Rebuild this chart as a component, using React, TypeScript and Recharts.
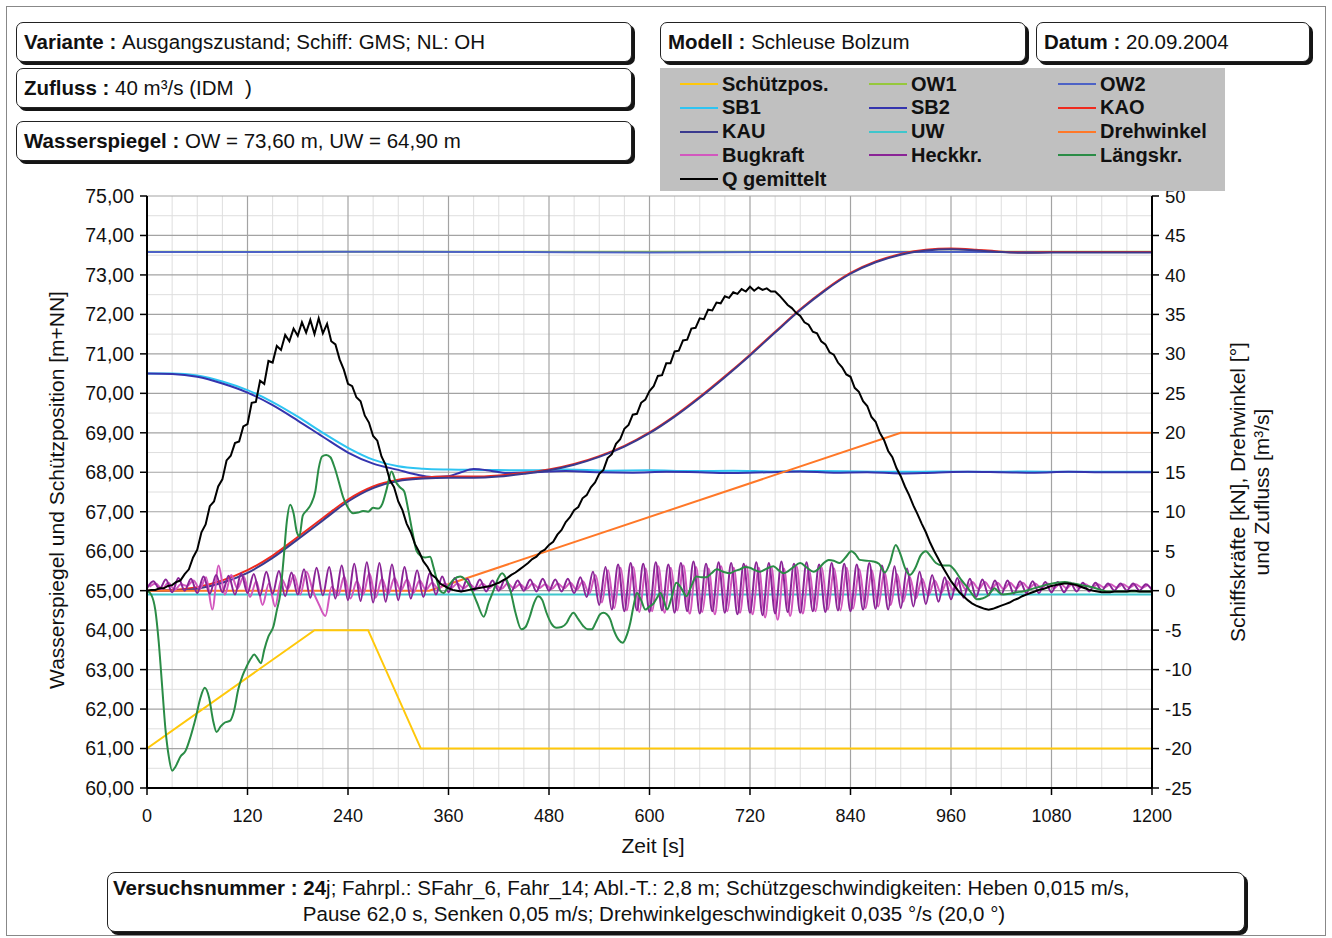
import React from 'react';
import { LineChart, Line, XAxis, YAxis, ReferenceLine } from 'recharts';

const FONT = '"Liberation Sans", Arial, Helvetica, sans-serif';

// ---------- axis ticks ----------
const X_TICKS = [0, 120, 240, 360, 480, 600, 720, 840, 960, 1080, 1200];
const X_MINOR = [30, 60, 90, 150, 180, 210, 270, 300, 330, 390, 420, 450, 510, 540, 570, 630, 660, 690, 750, 780, 810, 870, 900, 930, 990, 1020, 1050, 1110, 1140, 1170];
const X_ALL30 = [0, 30, 60, 90, 120, 150, 180, 210, 240, 270, 300, 330, 360, 390, 420, 450, 480, 510, 540, 570, 600, 630, 660, 690, 720, 750, 780, 810, 840, 870, 900, 930, 960, 990, 1020, 1050, 1080, 1110, 1140, 1170, 1200];
const X_GRID_MAJOR = [120, 240, 360, 480, 600, 720, 840, 960, 1080];
const Y_LEFT_TICKS = [60, 61, 62, 63, 64, 65, 66, 67, 68, 69, 70, 71, 72, 73, 74, 75];
const Y_LEFT_MINOR = [60.5, 61.5, 62.5, 63.5, 64.5, 65.5, 66.5, 67.5, 68.5, 69.5, 70.5, 71.5, 72.5, 73.5, 74.5];
const Y_GRID_MAJOR = [61, 62, 63, 64, 65, 66, 67, 68, 69, 70, 71, 72, 73, 74, 75];
const Y_RIGHT_TICKS = [-25, -20, -15, -10, -5, 0, 5, 10, 15, 20, 25, 30, 35, 40, 45, 50];

// ---------- series (left axis, m+NN) ----------
const SCHUETZ_T = [0, 200, 264, 327, 1200];
const SCHUETZ_V = [61.0, 64.0, 64.0, 61.0, 61.0];

const OW_T = [0, 150, 300, 450, 600, 750, 900, 1050, 1200];
const OW1_V = [73.585, 73.59, 73.585, 73.585, 73.59, 73.585, 73.585, 73.59, 73.585];
const OW2_V = [73.58, 73.58, 73.59, 73.58, 73.57, 73.58, 73.58, 73.58, 73.58];

const SB1_T = [0, 30, 60, 90, 120, 150, 180, 210, 240, 270, 300, 330, 360, 400, 450, 500, 550, 600, 650, 700, 750, 800, 850, 900, 950, 1000, 1050, 1100, 1150, 1200];
const SB1_V = [70.5, 70.5, 70.45, 70.3, 70.08, 69.78, 69.41, 69.0, 68.62, 68.32, 68.15, 68.09, 68.07, 68.06, 68.05, 68.07, 68.04, 68.05, 68.03, 68.04, 68.02, 68.03, 68.02, 68.01, 68.02, 68.01, 68.02, 68.01, 68.01, 68.01];

const SB2_T = [0, 30, 60, 90, 120, 150, 180, 210, 240, 270, 300, 320, 340, 360, 375, 390, 410, 430, 460, 500, 540, 580, 620, 660, 700, 740, 780, 820, 860, 900, 940, 980, 1020, 1060, 1100, 1140, 1200];
const SB2_V = [70.5, 70.49, 70.42, 70.25, 70.02, 69.7, 69.31, 68.9, 68.5, 68.22, 68.06, 67.95, 67.88, 67.9, 68.0, 68.08, 68.04, 67.98, 68.0, 68.03, 68.0, 67.99, 68.01, 68.0, 67.98, 68.0, 68.02, 67.99, 68.0, 67.97, 67.99, 68.01, 68.0, 67.99, 68.01, 68.0, 68.0];

const KA_T = [0, 30, 60, 90, 120, 150, 180, 210, 240, 270, 300, 330, 360, 390, 420, 450, 480, 510, 540, 570, 600, 630, 660, 690, 720, 750, 780, 810, 840, 870, 900, 930, 960, 990, 1020, 1050, 1080, 1110, 1140, 1170, 1200];
const KAO_V = [65.0, 65.02, 65.09, 65.26, 65.52, 65.89, 66.36, 66.84, 67.31, 67.64, 67.81, 67.87, 67.89, 67.89, 67.92, 67.98, 68.07, 68.21, 68.41, 68.67, 69.01, 69.43, 69.91, 70.43, 70.98, 71.56, 72.13, 72.63, 73.05, 73.34, 73.53, 73.64, 73.67, 73.64, 73.59, 73.57, 73.58, 73.58, 73.58, 73.58, 73.58];
const KAU_V = [65.0, 65.0, 65.05, 65.2, 65.45, 65.83, 66.3, 66.78, 67.26, 67.6, 67.78, 67.84, 67.86, 67.86, 67.89, 67.96, 68.05, 68.19, 68.39, 68.65, 68.99, 69.41, 69.89, 70.41, 70.96, 71.54, 72.11, 72.61, 73.03, 73.32, 73.51, 73.62, 73.65, 73.62, 73.58, 73.56, 73.57, 73.57, 73.57, 73.57, 73.57];

const UW_T = [0, 300, 600, 900, 1200];
const UW_V = [64.9, 64.9, 64.9, 64.9, 64.9];

// ---------- series (right axis) ----------
const DREH_T = [0, 337, 900, 1200];
const DREH_V = [0, 0, 20, 20];

// Heckkraft, sampled every 7.5 s starting at 0 s
const HECK_STEP = 7.5;
const HECK_V = [
  0.3, 1.2, 0.2, 1.4, -0.2, 1.6, 0.0, 1.5, -0.3, 1.8, -0.4, 2.0, -0.2, 1.9, -0.5, 2.2,
  -0.3, 2.1, -0.6, 2.4, -0.4, 2.5, -0.7, 2.3, -0.5, 2.7, -0.9, 2.9, -0.6, 3.0, -1.0, 3.2,
  -1.2, 3.4, -1.3, 3.6, -1.5, 3.5, -1.4, 3.3, -1.2, 3.0, -1.0, 2.6, -0.8, 2.2, -0.5, 1.8,
  -0.2, 1.6, -0.1, 1.5, 0.0, 1.4, -0.1, 1.3, 0.0, 1.4, -0.1, 1.3, 0.0, 1.4, -0.1, 1.5,
  0.0, 1.4, -0.1, 1.5, -0.3, 1.7, -0.8, 2.4, -1.8, 3.0, -2.4, 3.3, -2.6, 3.5, -2.5, 3.4,
  -2.7, 3.6, -2.5, 3.3, -2.8, 3.5, -2.6, 3.7, -2.9, 3.4, -2.6, 3.6, -2.8, 3.5, -3.0, 3.4,
  -2.8, 3.6, -3.1, 3.5, -2.9, 3.7, -2.7, 3.4, -2.8, 3.6, -2.6, 3.3, -2.7, 3.5, -2.5, 3.4,
  -2.6, 3.3, -2.4, 3.5, -2.3, 3.2, -2.4, 3.1, -2.2, 2.8, -2.0, 2.4, -1.7, 2.0, -1.4, 1.7,
  -1.1, 1.6, -0.9, 1.5, -0.8, 1.4, -0.6, 1.3, -0.5, 1.3, -0.4, 1.2, -0.3, 1.2, -0.3, 1.1,
  -0.2, 1.1, -0.2, 1.0, -0.1, 1.0, -0.1, 1.0, 0.0, 0.9, 0.0, 0.9, 0.0, 0.9, 0.0, 0.8,
  0.1,
];

// Bugkraft, sampled every 7.5 s starting at 3 s
const BUG_START = 3;
const BUG_STEP = 7.5;
const BUG_V = [
  0.5, 0.9, 0.2, 1.0, 0.1, 0.8, 0.6, 1.3, 0.2, 1.7, -2.4, 3.2, -0.5, 2.0, 0.3, 1.8,
  -0.8, 1.2, -1.8, 0.9, -2.0, 1.5, 0.2, 2.0, -0.5, 2.4, 0.0, -1.8, -3.2, 0.5, -0.6, 1.8,
  -1.0, 1.2, -0.5, 2.2, -0.9, 1.5, -0.4, 1.6, 0.0, 1.4, -0.3, 1.3, 0.1, 1.0, 0.2, 0.9,
  0.3, 0.9, 0.3, 0.8, 0.2, 0.9, 0.3, 0.8, 0.2, 0.9, 0.3, 0.8, 0.2, 0.9, 0.3, 0.8,
  0.2, 0.9, 0.3, 1.0, 0.1, 1.2, -0.4, 2.0, -1.5, 2.6, -2.2, 2.9, -2.5, 3.0, -2.7, 2.8,
  -2.6, 3.1, -2.8, 2.9, -2.5, 3.2, -2.9, 3.0, -2.7, 2.8, -3.0, 3.1, -2.6, 2.9, -2.8, 3.2,
  -3.0, 2.9, -3.4, 3.0, -3.7, 2.8, -3.2, 3.1, -2.9, 2.7, -2.6, 3.0, -2.4, 2.8, -2.5, 2.9,
  -2.3, 2.7, -2.2, 2.6, -2.0, 2.4, -1.8, 2.1, -1.4, 1.8, -1.0, 1.5, -0.6, 1.3, -0.3, 1.2,
  0.0, 1.2, 0.1, 1.1, 0.2, 1.1, 0.2, 1.0, 0.2, 1.0, 0.3, 1.0, 0.3, 0.9, 0.3, 0.9,
  0.3, 0.9, 0.3, 0.9, 0.3, 0.8, 0.4, 0.8, 0.4, 0.8, 0.4, 0.8, 0.4, 0.8, 0.4, 0.8,
];

// Längskraft (time, value)
const LAENGS_T = [0, 5, 10, 14, 18, 22, 26, 30, 34, 40, 46, 52, 58, 64, 69, 74, 79, 83, 88, 93, 99, 104, 109, 114, 119, 124, 128, 132, 136, 140, 145, 151, 155, 159, 163, 167, 171, 175, 179, 182, 186, 191, 196, 201, 205, 209, 214, 219, 224, 229, 234, 240, 246, 252, 258, 264, 270, 276, 281, 286, 292, 297, 302, 307, 312, 317, 322, 327, 332, 338, 342, 346, 350, 354, 360, 366, 374, 380, 386, 394, 402, 408, 414, 419, 424, 429, 434, 440, 447, 452, 457, 462, 467, 472, 477, 483, 489, 495, 501, 505, 509, 515, 521, 526, 531, 536, 541, 545, 549, 553, 557, 563, 568, 572, 577, 581, 585, 590, 595, 600, 605, 609, 613, 617, 621, 626, 632, 638, 644, 650, 656, 662, 668, 674, 680, 688, 696, 702, 708, 714, 720, 726, 732, 740, 748, 754, 760, 766, 772, 780, 788, 796, 803, 808, 814, 820, 827, 834, 841, 846, 851, 859, 867, 874, 881, 887, 894, 900, 905, 911, 917, 924, 930, 936, 942, 950, 958, 965, 972, 979, 985, 991, 997, 1003, 1008, 1012, 1017, 1022, 1030, 1038, 1046, 1056, 1066, 1076, 1086, 1096, 1106, 1116, 1126, 1136, 1146, 1160, 1175, 1190, 1200];
const LAENGS_V = [0.0, -0.5, -2.5, -6.5, -12.0, -17.5, -21.0, -22.8, -22.3, -21.0, -20.3, -18.5, -16.2, -13.5, -12.3, -13.5, -16.5, -17.9, -17.2, -16.7, -16.5, -15.2, -12.5, -10.8, -9.6, -8.6, -8.1, -8.6, -9.2, -7.5, -5.8, -4.5, -2.5, -0.5, 3.9, 8.8, 10.9, 9.8, 7.4, 6.9, 9.5, 10.2, 11.0, 12.6, 15.5, 17.0, 17.2, 16.9, 15.6, 13.8, 11.9, 10.5, 9.8, 9.9, 10.1, 10.0, 10.5, 10.4, 11.0, 12.8, 15.1, 13.8, 13.1, 12.6, 10.2, 7.4, 5.0, 4.4, 4.2, 4.3, 3.0, 1.4, 0.0, -0.3, 0.6, 1.4, 1.8, 1.4, 0.5, -1.5, -3.3, -1.5, 0.1, 1.5, 2.2, 1.5, 0.0, -2.8, -4.9, -4.6, -3.3, -1.6, -0.7, -1.2, -2.8, -4.2, -4.7, -4.6, -4.1, -3.3, -2.8, -3.6, -4.5, -4.9, -4.9, -4.0, -3.0, -2.8, -3.0, -3.6, -4.9, -6.2, -6.6, -5.9, -4.1, -1.9, -0.3, -1.2, -2.4, -2.0, -1.6, -0.9, -0.3, -1.2, -2.4, -1.0, 1.0, 0.3, -0.7, 0.6, 1.8, 1.7, 1.7, 2.2, 2.7, 2.4, 2.2, 2.5, 2.7, 3.0, 2.9, 2.6, 2.4, 2.8, 3.1, 2.6, 2.2, 2.5, 3.0, 3.5, 2.9, 2.4, 2.9, 3.5, 3.9, 3.8, 3.5, 4.2, 5.0, 4.6, 3.9, 3.8, 3.7, 3.4, 2.3, 3.5, 5.8, 4.5, 2.9, 2.0, 2.8, 4.5, 5.0, 4.3, 3.5, 3.2, 3.2, 2.5, 1.4, 0.5, -0.4, -1.1, -1.0, -0.7, -0.1, 0.3, -0.2, -0.5, -0.4, -0.2, -0.1, 0.2, 0.5, 0.8, 1.0, 1.1, 0.9, 0.7, 0.5, 0.2, -0.1, -0.1, -0.1, -0.1, -0.1];

// Q gemittelt, sampled every 5 s starting at 0 s
const Q_STEP = 5;
const Q_V = [
  0.0, 0.1, 0.1, 0.3, 0.3, 0.6, 0.7, 1.1, 1.3, 2.1, 2.7, 4.2,
  5.2, 7.4, 8.4, 10.7, 11.3, 13.2, 14.1, 16.5, 17.1, 18.7, 18.9, 20.8,
  21.1, 23.8, 23.9, 26.6, 26.2, 29.1, 28.9, 31.0, 30.5, 32.4, 31.6, 33.2,
  32.3, 34.0, 32.7, 34.3, 32.5, 34.5, 32.6, 33.8, 31.6, 31.2, 29.3, 28.0,
  26.2, 25.9, 24.5, 24.0, 22.2, 21.3, 19.6, 19.0, 17.0, 15.9, 14.0, 13.1,
  11.3, 10.2, 8.5, 7.4, 5.9, 4.9, 3.7, 3.0, 2.0, 1.6, 0.9, 0.6,
  0.3, 0.1, 0.0, -0.1, 0.0, 0.1, 0.2, 0.3, 0.4, 0.5, 0.6, 0.8,
  1.0, 1.3, 1.6, 2.0, 2.3, 2.7, 3.1, 3.5, 4.0, 4.3, 4.9, 5.2,
  5.8, 6.2, 7.1, 7.7, 8.7, 9.3, 10.2, 10.6, 11.7, 12.1, 13.1, 13.7,
  14.8, 15.3, 16.8, 17.3, 18.6, 19.2, 20.5, 21.0, 22.3, 22.4, 23.8, 24.2,
  25.3, 25.9, 27.2, 27.3, 28.8, 28.8, 30.3, 30.4, 31.7, 31.8, 33.2, 33.3,
  34.5, 34.4, 35.6, 35.5, 36.5, 36.4, 37.3, 37.1, 37.8, 37.6, 38.2, 37.9,
  38.5, 38.0, 38.4, 38.1, 38.3, 37.9, 37.9, 37.4, 36.8, 36.2, 35.8, 35.2,
  34.8, 34.0, 33.7, 32.8, 32.6, 31.6, 31.2, 30.2, 29.9, 28.9, 28.3, 27.4,
  27.1, 25.7, 25.2, 24.0, 23.4, 22.0, 21.4, 20.0, 19.1, 17.7, 16.9, 15.5,
  14.5, 13.2, 12.1, 10.8, 9.7, 8.5, 7.4, 6.1, 5.0, 4.0, 3.0, 2.1,
  1.2, 0.5, -0.2, -0.7, -1.2, -1.6, -1.9, -2.1, -2.3, -2.4, -2.3, -2.1,
  -1.9, -1.7, -1.5, -1.2, -1.0, -0.7, -0.5, -0.3, -0.1, 0.1, 0.2, 0.4,
  0.6, 0.7, 0.8, 0.9, 0.9, 0.8, 0.7, 0.5, 0.3, 0.1, 0.0, -0.1,
  -0.2, -0.2, -0.2, -0.1, -0.1, -0.1, -0.1, 0.0, 0.0, -0.1, -0.1, -0.1,
  -0.1,
];

// ---------- series styling / legend ----------
const C = {
  schuetz: '#ffc80a',
  ow1: '#96c83c',
  ow2: '#4d62c6',
  sb1: '#2ec4f2',
  sb2: '#3434ae',
  kao: '#f02a1e',
  kau: '#3a3a8e',
  uw: '#3fc6cc',
  dreh: '#ff7828',
  bug: '#d257be',
  heck: '#8a2496',
  laengs: '#2a8c46',
  q: '#000000',
};

const LEGEND_ROWS = [
  [['Schützpos.', C.schuetz], ['OW1', C.ow1], ['OW2', C.ow2]],
  [['SB1', C.sb1], ['SB2', C.sb2], ['KAO', C.kao]],
  [['KAU', C.kau], ['UW', C.uw], ['Drehwinkel', C.dreh]],
  [['Bugkraft', C.bug], ['Heckkr.', C.heck], ['Längskr.', C.laengs]],
  [['Q gemittelt', C.q]],
];

const pts = (ts: number[], vs: number[]) => ts.map((t, i) => ({ t, v: vs[i] }));
const grid = (start: number, step: number, vs: number[]) => vs.map((v, i) => ({ t: start + i * step, v }));

const schuetzData = pts(SCHUETZ_T, SCHUETZ_V);
const ow1Data = pts(OW_T, OW1_V);
const ow2Data = pts(OW_T, OW2_V);
const sb1Data = pts(SB1_T, SB1_V);
const sb2Data = pts(SB2_T, SB2_V);
const kaoData = pts(KA_T, KAO_V);
const kauData = pts(KA_T, KAU_V);
const uwData = pts(UW_T, UW_V);
const drehData = pts(DREH_T, DREH_V);
const bugData = grid(BUG_START, BUG_STEP, BUG_V);
const heckData = grid(0, HECK_STEP, HECK_V);
const laengsData = pts(LAENGS_T, LAENGS_V);
const qData = grid(0, Q_STEP, Q_V);

const fmtLeft = (v: number) => v.toFixed(2).replace('.', ',');

function InfoBox(props: { left: number; top: number; width: number; height: number; label: string; text: string }) {
  const { left, top, width, height, label, text } = props;
  return (
    <div
      style={{
        position: 'absolute', left, top, width, height, boxSizing: 'border-box',
        border: '1.5px solid #222', borderRadius: 7, boxShadow: '3px 3px 0 #151515',
        background: '#fff', display: 'flex', alignItems: 'center', paddingLeft: 7,
        fontSize: 20.5, color: '#111', whiteSpace: 'pre', fontFamily: FONT,
      }}
    >
      <b>{label}</b>
      <span>{text}</span>
    </div>
  );
}

const lineCommon = {
  dot: false,
  isAnimationActive: false,
  xAxisId: 'x',
  dataKey: 'v',
  activeDot: false,
} as const;

export default function App() {
  return (
    <div style={{ position: 'absolute', left: 0, top: 0, width: 1332, height: 938, background: '#fff', fontFamily: FONT, overflow: 'hidden' }}>
      <div style={{ position: 'absolute', left: 6, top: 6, width: 1320, height: 930, border: '1px solid #888', boxSizing: 'border-box' }} />
      <div style={{ position: 'absolute', left: 0, top: 0 }}>
        <LineChart width={1332} height={938} margin={{ top: 196, right: 100, bottom: 110, left: 67 }}>
          <XAxis xAxisId="xminor" type="number" dataKey="t" domain={[0, 1200]} ticks={X_ALL30} allowDataOverflow
            height={0} tick={false} tickSize={5} axisLine={false} tickLine={{ stroke: '#000', strokeWidth: 1 }} />
          <XAxis xAxisId="x" type="number" dataKey="t" domain={[0, 1200]} ticks={X_TICKS} allowDataOverflow interval={0}
            height={40} tickSize={7} tickMargin={14}
            axisLine={{ stroke: '#000', strokeWidth: 2 }} tickLine={{ stroke: '#000', strokeWidth: 1.5 }}
            tick={{ fontSize: 18, fill: '#111', fontFamily: FONT }} />
          <YAxis yAxisId="leftminor" orientation="left" type="number" domain={[60, 75]} ticks={Y_LEFT_MINOR} allowDataOverflow
            width={0} tick={false} tickSize={5} axisLine={false} tickLine={{ stroke: '#000', strokeWidth: 1 }} />
          <YAxis yAxisId="left" orientation="left" type="number" domain={[60, 75]} ticks={Y_LEFT_TICKS} allowDataOverflow interval={0}
            width={80} tickSize={7} tickMargin={6} tickFormatter={fmtLeft}
            axisLine={{ stroke: '#000', strokeWidth: 2 }} tickLine={{ stroke: '#000', strokeWidth: 1.5 }}
            tick={{ fontSize: 19.5, fill: '#111', fontFamily: FONT }} />
          <YAxis yAxisId="right" orientation="right" type="number" domain={[-25, 50]} ticks={Y_RIGHT_TICKS} allowDataOverflow interval={0}
            width={80} tickSize={7} tickMargin={6}
            axisLine={{ stroke: '#000', strokeWidth: 2 }} tickLine={{ stroke: '#000', strokeWidth: 1.5 }}
            tick={{ fontSize: 18.5, fill: '#111', fontFamily: FONT }} />

          {X_MINOR.map((x) => (
            <ReferenceLine key={'xm' + x} x={x} xAxisId="x" yAxisId="left" stroke="#dedede" strokeWidth={1} />
          ))}
          {Y_LEFT_MINOR.map((y) => (
            <ReferenceLine key={'ym' + y} y={y} xAxisId="x" yAxisId="left" stroke="#dedede" strokeWidth={1} />
          ))}
          {X_GRID_MAJOR.map((x) => (
            <ReferenceLine key={'xM' + x} x={x} xAxisId="x" yAxisId="left" stroke="#a3a3a3" strokeWidth={1.2} />
          ))}
          {Y_GRID_MAJOR.map((y) => (
            <ReferenceLine key={'yM' + y} y={y} xAxisId="x" yAxisId="left" stroke="#a3a3a3" strokeWidth={1.2} />
          ))}

          <Line {...lineCommon} data={schuetzData} yAxisId="left" type="linear" stroke={C.schuetz} strokeWidth={2} />
          <Line {...lineCommon} data={ow1Data} yAxisId="left" type="monotone" stroke={C.ow1} strokeWidth={2} />
          <Line {...lineCommon} data={ow2Data} yAxisId="left" type="monotone" stroke={C.ow2} strokeWidth={2} />
          <Line {...lineCommon} data={sb1Data} yAxisId="left" type="monotone" stroke={C.sb1} strokeWidth={2} />
          <Line {...lineCommon} data={sb2Data} yAxisId="left" type="monotone" stroke={C.sb2} strokeWidth={2} />
          <Line {...lineCommon} data={kaoData} yAxisId="left" type="monotone" stroke={C.kao} strokeWidth={2} />
          <Line {...lineCommon} data={kauData} yAxisId="left" type="monotone" stroke={C.kau} strokeWidth={2} />
          <Line {...lineCommon} data={uwData} yAxisId="left" type="linear" stroke={C.uw} strokeWidth={2} />
          <Line {...lineCommon} data={drehData} yAxisId="right" type="linear" stroke={C.dreh} strokeWidth={2} />
          <Line {...lineCommon} data={bugData} yAxisId="right" type="monotone" stroke={C.bug} strokeWidth={2} />
          <Line {...lineCommon} data={heckData} yAxisId="right" type="monotone" stroke={C.heck} strokeWidth={2} />
          <Line {...lineCommon} data={laengsData} yAxisId="right" type="monotone" stroke={C.laengs} strokeWidth={2} />
          <Line {...lineCommon} data={qData} yAxisId="right" type="linear" stroke={C.q} strokeWidth={2} />
        </LineChart>
      </div>

      <InfoBox left={16} top={22} width={616} height={40} label="Variante : " text="Ausgangszustand; Schiff: GMS; NL: OH" />
      <InfoBox left={16} top={68} width={616} height={40} label="Zufluss : " text="40 m³/s (IDM  )" />
      <InfoBox left={16} top={121} width={616} height={40} label="Wasserspiegel : " text="OW = 73,60 m, UW = 64,90 m" />
      <InfoBox left={660} top={22} width={366} height={40} label="Modell : " text="Schleuse Bolzum" />
      <InfoBox left={1036} top={22} width={274} height={40} label="Datum : " text="20.09.2004" />

      {/* legend */}
      <div style={{ position: 'absolute', left: 660, top: 68, width: 565, height: 123, background: '#c0c0c0' }}>
        {LEGEND_ROWS.map((row, r) =>
          row.map(([name, color], c) => (
            <div key={name} style={{ position: 'absolute', left: 20 + c * 189, top: 16 + r * 23.8 - 12, height: 24, display: 'flex', alignItems: 'center' }}>
              <div style={{ width: 38, height: 2, background: color }} />
              <span style={{ marginLeft: 4, fontSize: 20, fontWeight: 'bold', color: '#111', whiteSpace: 'nowrap' }}>{name}</span>
            </div>
          ))
        )}
      </div>

      {/* axis titles */}
      <div style={{ position: 'absolute', left: 57, top: 490, transform: 'translate(-50%, -50%) rotate(-90deg)', whiteSpace: 'nowrap', fontSize: 21, color: '#111' }}>
        Wasserspiegel und Schützposition [m+NN]
      </div>
      <div style={{ position: 'absolute', left: 1238, top: 492, transform: 'translate(-50%, -50%) rotate(-90deg)', whiteSpace: 'nowrap', fontSize: 21, color: '#111' }}>
        Schiffskräfte [kN], Drehwinkel [°]
      </div>
      <div style={{ position: 'absolute', left: 1262, top: 492, transform: 'translate(-50%, -50%) rotate(-90deg)', whiteSpace: 'nowrap', fontSize: 21, color: '#111' }}>
        und Zufluss [m³/s]
      </div>
      <div style={{ position: 'absolute', left: 653, top: 846, transform: 'translate(-50%, -50%)', whiteSpace: 'nowrap', fontSize: 21, color: '#111' }}>
        Zeit [s]
      </div>

      {/* bottom info */}
      <div style={{ position: 'absolute', left: 107, top: 872, width: 1138, height: 60, boxSizing: 'border-box', border: '1.5px solid #222', borderRadius: 8, boxShadow: '3px 3px 0 #151515', background: '#fff' }} />
      <div style={{ position: 'absolute', left: 113, top: 876, fontSize: 20.5, color: '#111', whiteSpace: 'pre' }}>
        <b>Versuchsnummer : 24</b>j; Fahrpl.: SFahr_6, Fahr_14; Abl.-T.: 2,8 m; Schützgeschwindigkeiten: Heben 0,015 m/s,
      </div>
      <div style={{ position: 'absolute', left: 654, top: 902, transform: 'translateX(-50%)', fontSize: 20.5, color: '#111', whiteSpace: 'pre' }}>
        Pause 62,0 s, Senken 0,05 m/s; Drehwinkelgeschwindigkeit 0,035 °/s (20,0 °)
      </div>
    </div>
  );
}
